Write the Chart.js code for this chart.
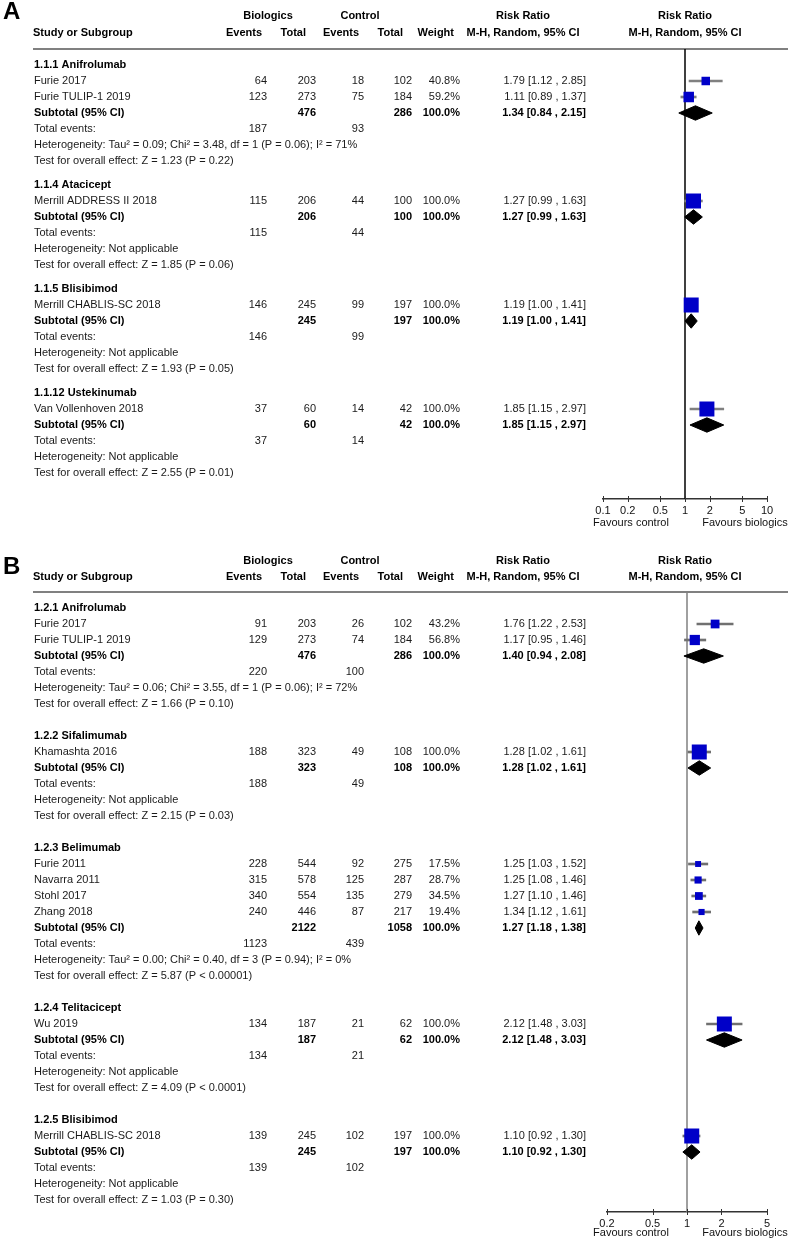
<!DOCTYPE html>
<html>
<head>
<meta charset="utf-8">
<script src="https://cdn.jsdelivr.net/npm/chart.js@4.4.1/dist/chart.umd.min.js"></script>
<style>
  body { margin: 0; background: #fff; }
  canvas { display: block; }
</style>
</head>
<body>
<canvas id="forestA" width="790" height="545"></canvas>
<canvas id="forestB" width="790" height="695"></canvas>
<script>
// ---------------------------------------------------------------------------
// Panel A data
// ---------------------------------------------------------------------------
const groupsA = ['1.1.1 Anifrolumab', '1.1.4 Atacicept', '1.1.5 Blisibimod', '1.1.12 Ustekinumab'];
const studiesA = ['Furie 2017', 'Furie TULIP-1 2019', 'Merrill ADDRESS II 2018', 'Merrill CHABLIS-SC 2018', 'Van Vollenhoven 2018'];
const studyGroupA = [0, 0, 1, 2, 3];
const bioEventsA = [64, 123, 115, 146, 37];
const bioTotalA = [203, 273, 206, 245, 60];
const ctlEventsA = [18, 75, 44, 99, 14];
const ctlTotalA = [102, 184, 100, 197, 42];
const weightA = [40.8, 59.2, 100, 100, 100];
const rrA = [1.79, 1.11, 1.27, 1.19, 1.85];
const loA = [1.12, 0.89, 0.99, 1.00, 1.15];
const hiA = [2.85, 1.37, 1.63, 1.41, 2.97];

const subBioTotalA = [476, 206, 245, 60];
const subCtlTotalA = [286, 100, 197, 42];
const subBioEventsA = [187, 115, 146, 37];
const subCtlEventsA = [93, 44, 99, 14];
const subRrA = [1.34, 1.27, 1.19, 1.85];
const subLoA = [0.84, 0.99, 1.00, 1.15];
const subHiA = [2.15, 1.63, 1.41, 2.97];
const hetA = [
  'Heterogeneity: Tau² = 0.09; Chi² = 3.48, df = 1 (P = 0.06); I² = 71%',
  'Heterogeneity: Not applicable',
  'Heterogeneity: Not applicable',
  'Heterogeneity: Not applicable'
];
const testA = [
  'Test for overall effect: Z = 1.23 (P = 0.22)',
  'Test for overall effect: Z = 1.85 (P = 0.06)',
  'Test for overall effect: Z = 1.93 (P = 0.05)',
  'Test for overall effect: Z = 2.55 (P = 0.01)'
];
const ticksA = [0.1, 0.2, 0.5, 1, 2, 5, 10];

// ---------------------------------------------------------------------------
// Panel B data
// ---------------------------------------------------------------------------
const groupsB = ['1.2.1 Anifrolumab', '1.2.2 Sifalimumab', '1.2.3 Belimumab', '1.2.4 Telitacicept', '1.2.5 Blisibimod'];
const studiesB = ['Furie 2017', 'Furie TULIP-1 2019', 'Khamashta 2016', 'Furie 2011', 'Navarra 2011', 'Stohl 2017', 'Zhang 2018', 'Wu 2019', 'Merrill CHABLIS-SC 2018'];
const studyGroupB = [0, 0, 1, 2, 2, 2, 2, 3, 4];
const bioEventsB = [91, 129, 188, 228, 315, 340, 240, 134, 139];
const bioTotalB = [203, 273, 323, 544, 578, 554, 446, 187, 245];
const ctlEventsB = [26, 74, 49, 92, 125, 135, 87, 21, 102];
const ctlTotalB = [102, 184, 108, 275, 287, 279, 217, 62, 197];
const weightB = [43.2, 56.8, 100, 17.5, 28.7, 34.5, 19.4, 100, 100];
const rrB = [1.76, 1.17, 1.28, 1.25, 1.25, 1.27, 1.34, 2.12, 1.10];
const loB = [1.22, 0.95, 1.02, 1.03, 1.08, 1.10, 1.12, 1.48, 0.92];
const hiB = [2.53, 1.46, 1.61, 1.52, 1.46, 1.46, 1.61, 3.03, 1.30];

const subBioTotalB = [476, 323, 2122, 187, 245];
const subCtlTotalB = [286, 108, 1058, 62, 197];
const subBioEventsB = [220, 188, 1123, 134, 139];
const subCtlEventsB = [100, 49, 439, 21, 102];
const subRrB = [1.40, 1.28, 1.27, 2.12, 1.10];
const subLoB = [0.94, 1.02, 1.18, 1.48, 0.92];
const subHiB = [2.08, 1.61, 1.38, 3.03, 1.30];
const hetB = [
  'Heterogeneity: Tau² = 0.06; Chi² = 3.55, df = 1 (P = 0.06); I² = 72%',
  'Heterogeneity: Not applicable',
  'Heterogeneity: Tau² = 0.00; Chi² = 0.40, df = 3 (P = 0.94); I² = 0%',
  'Heterogeneity: Not applicable',
  'Heterogeneity: Not applicable'
];
const testB = [
  'Test for overall effect: Z = 1.66 (P = 0.10)',
  'Test for overall effect: Z = 2.15 (P = 0.03)',
  'Test for overall effect: Z = 5.87 (P < 0.00001)',
  'Test for overall effect: Z = 4.09 (P < 0.0001)',
  'Test for overall effect: Z = 1.03 (P = 0.30)'
];
const ticksB = [0.2, 0.5, 1, 2, 5];

// ---------------------------------------------------------------------------
const FONT = '"Liberation Sans", Arial, Helvetica, sans-serif';
Chart.defaults.font.family = FONT;

// text column right edges (px)
const COL = { label: 34, bioEv: 267, bioTot: 316, ctlEv: 364, ctlTot: 412, weight: 460, rr: 586 };

function fmtCI(v, lo, hi) {
  return v.toFixed(2) + ' [' + lo.toFixed(2) + ' , ' + hi.toFixed(2) + ']';
}

// row index for every line of the table
function buildRows(nGroups, studyGroup, gap) {
  const rows = { group: [], study: [], sub: [], tot: [], het: [], test: [] };
  let r = 1;
  for (let g = 0; g < nGroups; g++) {
    rows.group.push(r++);
    studyGroup.forEach((sg, i) => { if (sg === g) rows.study[i] = r++; });
    rows.sub.push(r++);
    rows.tot.push(r++);
    rows.het.push(r++);
    rows.test.push(r);
    r += 1 + gap;
  }
  return rows;
}

function text(ctx, s, x, y, align, bold, color) {
  ctx.font = (bold ? 'bold ' : '') + '11px ' + FONT;
  ctx.textAlign = align;
  ctx.textBaseline = 'middle';
  ctx.fillStyle = color || (bold ? '#000' : '#1a1a1a');
  ctx.fillText(s, x, y);
}

function drawPanel(canvasId, p) {
  const rows = buildRows(p.groups.length, p.studyGroup, p.gap);
  const h = 0.45; // diamond half height (rows)

  const datasets = [];
  // study squares
  datasets.push({
    type: 'scatter',
    data: p.rr.map((v, i) => ({ x: v, y: rows.study[i] })),
    pointStyle: 'rect',
    pointRadius: p.weight.map(w => (4 + 11 * w / 100) / Math.SQRT2),
    pointHoverRadius: p.weight.map(w => (4 + 11 * w / 100) / Math.SQRT2),
    backgroundColor: '#0000c8',
    borderWidth: 0,
    order: 0
  });
  // confidence intervals
  datasets.push({
    type: 'bar',
    indexAxis: 'y',
    data: p.lo.map((v, i) => ({ x: [v, p.hi[i]], y: rows.study[i] })),
    barThickness: 2,
    backgroundColor: p.ciColor,
    borderWidth: 0,
    order: 2
  });
  // subtotal diamonds: upper half, then lower half filled to it
  p.subRr.forEach((v, g) => {
    const y = rows.sub[g];
    const lo = p.subLo[g], hi = p.subHi[g];
    datasets.push({
      type: 'line', data: [{ x: lo, y: y }, { x: v, y: y - h }, { x: hi, y: y }],
      borderColor: '#000', borderWidth: 1, pointRadius: 0, fill: false, order: 1
    });
    datasets.push({
      type: 'line', data: [{ x: lo, y: y }, { x: v, y: y + h }, { x: hi, y: y }],
      borderColor: '#000', borderWidth: 1, pointRadius: 0, fill: '-1', backgroundColor: '#000', order: 1
    });
  });

  const tablePlugin = {
    id: 'table',
    beforeDatasetsDraw(chart) {
      const { ctx, chartArea, scales } = chart;
      const x1 = scales.x.getPixelForValue(1);
      ctx.save();
      ctx.strokeStyle = '#808080';
      ctx.lineWidth = 2;
      ctx.beginPath();
      ctx.moveTo(33, chartArea.top);
      ctx.lineTo(788, chartArea.top);
      ctx.stroke();
      ctx.strokeStyle = p.refColor;
      ctx.lineWidth = 1.5;
      ctx.beginPath();
      ctx.moveTo(x1, chartArea.top);
      ctx.lineTo(x1, chartArea.bottom);
      ctx.stroke();
      ctx.restore();
    },
    afterDraw(chart) {
      const { ctx, chartArea, scales } = chart;
      const ys = v => scales.y.getPixelForValue(v);
      ctx.save();
      // panel letter
      ctx.font = 'bold 24px ' + FONT;
      ctx.textAlign = 'left';
      ctx.textBaseline = 'middle';
      ctx.fillStyle = '#000';
      ctx.fillText(p.letter, 3, p.letterY);

      // headers
      const y1 = p.headY1, y2 = p.headY2;
      text(ctx, 'Biologics', 268, y1, 'center', true);
      text(ctx, 'Control', 360, y1, 'center', true);
      text(ctx, 'Risk Ratio', 523, y1, 'center', true);
      text(ctx, 'Risk Ratio', 685, y1, 'center', true);
      text(ctx, 'Study or Subgroup', 33, y2, 'left', true);
      text(ctx, 'Events', 262, y2, 'right', true);
      text(ctx, 'Total', 306, y2, 'right', true);
      text(ctx, 'Events', 359, y2, 'right', true);
      text(ctx, 'Total', 403, y2, 'right', true);
      text(ctx, 'Weight', 454, y2, 'right', true);
      text(ctx, 'M-H, Random, 95% CI', 523, y2, 'center', true);
      text(ctx, 'M-H, Random, 95% CI', 685, y2, 'center', true);

      // study rows
      p.studies.forEach((s, i) => {
        const y = ys(rows.study[i]);
        text(ctx, s, COL.label, y, 'left');
        text(ctx, String(p.bioEvents[i]), COL.bioEv, y, 'right');
        text(ctx, String(p.bioTotal[i]), COL.bioTot, y, 'right');
        text(ctx, String(p.ctlEvents[i]), COL.ctlEv, y, 'right');
        text(ctx, String(p.ctlTotal[i]), COL.ctlTot, y, 'right');
        text(ctx, p.weight[i].toFixed(1) + '%', COL.weight, y, 'right');
        text(ctx, fmtCI(p.rr[i], p.lo[i], p.hi[i]), COL.rr, y, 'right');
      });

      // subgroup rows
      p.groups.forEach((gname, g) => {
        text(ctx, gname, COL.label, ys(rows.group[g]), 'left', true);
        const ys2 = ys(rows.sub[g]);
        text(ctx, 'Subtotal (95% CI)', COL.label, ys2, 'left', true);
        text(ctx, String(p.subBioTotal[g]), COL.bioTot, ys2, 'right', true);
        text(ctx, String(p.subCtlTotal[g]), COL.ctlTot, ys2, 'right', true);
        text(ctx, '100.0%', COL.weight, ys2, 'right', true);
        text(ctx, fmtCI(p.subRr[g], p.subLo[g], p.subHi[g]), COL.rr, ys2, 'right', true);
        const yt = ys(rows.tot[g]);
        text(ctx, 'Total events:', COL.label, yt, 'left');
        text(ctx, String(p.subBioEvents[g]), COL.bioEv, yt, 'right');
        text(ctx, String(p.subCtlEvents[g]), COL.ctlEv, yt, 'right');
        text(ctx, p.het[g], COL.label, ys(rows.het[g]), 'left');
        text(ctx, p.test[g], COL.label, ys(rows.test[g]), 'left');
      });

      // axis tick marks crossing the axis line
      ctx.strokeStyle = '#333';
      ctx.lineWidth = 1;
      p.ticks.forEach(t => {
        const x = Math.round(scales.x.getPixelForValue(t)) + 0.5;
        ctx.beginPath();
        ctx.moveTo(x, chartArea.bottom - 3);
        ctx.lineTo(x, chartArea.bottom + 3);
        ctx.stroke();
      });
      text(ctx, 'Favours control', 631, chartArea.bottom + p.favY, 'center', false, '#111');
      text(ctx, 'Favours biologics', 745, chartArea.bottom + p.favY, 'center', false, '#111');
      ctx.restore();
    }
  };

  const canvas = document.getElementById(canvasId);
  new Chart(canvas, {
    type: 'scatter',
    data: { datasets: datasets },
    options: {
      responsive: false,
      animation: false,
      devicePixelRatio: 1,
      layout: { padding: { left: p.plotLeft, right: canvas.width - 767, top: p.top, bottom: p.bottom } },
      plugins: { legend: { display: false }, tooltip: { enabled: false } },
      scales: {
        x: {
          type: 'logarithmic',
          min: p.ticks[0],
          max: p.ticks[p.ticks.length - 1],
          afterBuildTicks: s => { s.ticks = p.ticks.map(v => ({ value: v })); },
          afterFit: s => { s.height = 24; },
          grid: { display: false, drawTicks: false },
          border: { display: true, color: '#333', width: 1.5 },
          ticks: {
            padding: 5, color: '#111', autoSkip: false, maxRotation: 0,
            font: { size: 11 },
            callback: v => String(v)
          }
        },
        y: { type: 'linear', reverse: true, min: 0, max: p.yMax, display: false, offset: false }
      }
    },
    plugins: [tablePlugin]
  });
}

drawPanel('forestA', {
  letter: 'A', letterY: 12, headY1: 16, headY2: 33,
  groups: groupsA, studies: studiesA, studyGroup: studyGroupA,
  bioEvents: bioEventsA, bioTotal: bioTotalA, ctlEvents: ctlEventsA, ctlTotal: ctlTotalA,
  weight: weightA, rr: rrA, lo: loA, hi: hiA,
  subBioTotal: subBioTotalA, subCtlTotal: subCtlTotalA,
  subBioEvents: subBioEventsA, subCtlEvents: subCtlEventsA,
  subRr: subRrA, subLo: subLoA, subHi: subHiA, het: hetA, test: testA,
  ticks: ticksA, gap: 0.5,
  top: 49, bottom: 22, yMax: (499 - 49) / 16, plotLeft: 603,
  refColor: '#000', ciColor: '#808080', favY: 24
});

drawPanel('forestB', {
  letter: 'B', letterY: 22, headY1: 16, headY2: 32,
  groups: groupsB, studies: studiesB, studyGroup: studyGroupB,
  bioEvents: bioEventsB, bioTotal: bioTotalB, ctlEvents: ctlEventsB, ctlTotal: ctlTotalB,
  weight: weightB, rr: rrB, lo: loB, hi: hiB,
  subBioTotal: subBioTotalB, subCtlTotal: subCtlTotalB,
  subBioEvents: subBioEventsB, subCtlEvents: subCtlEventsB,
  subRr: subRrB, subLo: subLoB, subHi: subHiB, het: hetB, test: testB,
  ticks: ticksB, gap: 1,
  top: 47, bottom: 4, yMax: (667 - 47) / 16, plotLeft: 607,
  refColor: '#808080', ciColor: '#707070', favY: 21
});
</script>
</body>
</html>
